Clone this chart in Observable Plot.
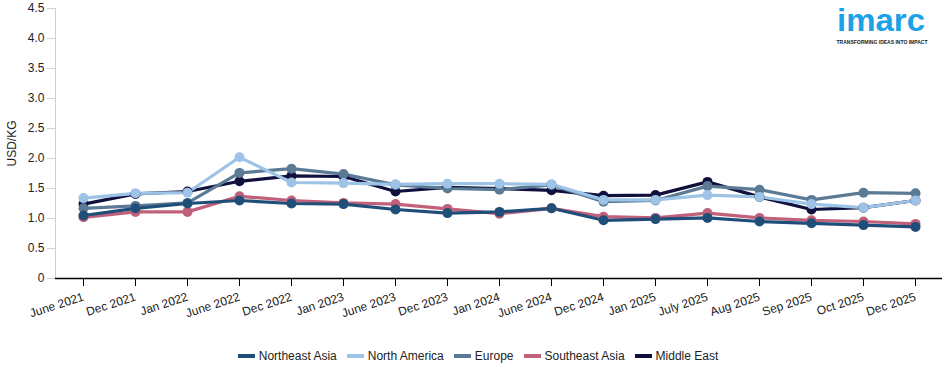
<!DOCTYPE html>
<html>
<head>
<meta charset="utf-8">
<script src="https://cdn.jsdelivr.net/npm/d3@7"></script>
<script src="https://cdn.jsdelivr.net/npm/@observablehq/plot@0.6"></script>
<style>
  body { margin:0; background:#fff; font-family:"Liberation Sans", Arial, sans-serif; }
  #wrap { position:relative; width:950px; height:373px; }
  #legend { position:absolute; top:349px; left:0; width:950px; display:flex; justify-content:center; gap:10px; font-size:12px; color:#222; padding-left:6px; box-sizing:border-box; }
  #legend .item { display:flex; align-items:center; gap:4px; }
  #legend .sw { width:17px; height:4px; display:inline-block; }
  #logo { position:absolute; left:830px; top:0px; }
</style>
</head>
<body>
<div id="wrap">
  <div id="chart"></div>
  <div id="legend"></div>
  <svg id="logo" width="105" height="48">
    <text x="7" y="31" fill="#1ba1e6" font-family="Liberation Sans, Arial, sans-serif" font-weight="bold" font-size="32" textLength="88" lengthAdjust="spacingAndGlyphs">imarc</text>
    <text x="52" y="44" text-anchor="middle" fill="#222" font-family="Liberation Sans, Arial, sans-serif" font-weight="bold" font-size="5">TRANSFORMING IDEAS INTO IMPACT</text>
  </svg>
</div>
<script>
const categories = ["June 2021","Dec 2021","Jan 2022","June 2022","Dec 2022","Jan 2023","June 2023","Dec 2023","Jan 2024","June 2024","Dec 2024","Jan 2025","July 2025","Aug 2025","Sep 2025","Oct 2025","Dec 2025"];
const seriesNames = ["Northeast Asia","North America","Europe","Southeast Asia","Middle East"];
const seriesColors = ["#1f4e79","#9dc3e6","#5b7a95","#c0607a","#10103f"];
const northeastAsia = [1.05,1.17,1.25,1.30,1.25,1.24,1.15,1.09,1.11,1.17,0.97,0.99,1.01,0.95,0.92,0.89,0.86];
const northAmerica  = [1.34,1.42,1.43,2.02,1.60,1.59,1.57,1.58,1.58,1.57,1.31,1.31,1.39,1.36,1.24,1.18,1.30];
const europe        = [1.17,1.21,1.26,1.76,1.83,1.74,1.56,1.50,1.48,1.56,1.28,1.30,1.54,1.48,1.31,1.43,1.42];
const southeastAsia = [1.02,1.11,1.11,1.37,1.30,1.26,1.24,1.16,1.08,1.17,1.03,1.01,1.09,1.01,0.97,0.95,0.91];
const middleEast    = [1.24,1.41,1.45,1.62,1.71,1.70,1.45,1.52,1.50,1.47,1.38,1.39,1.61,1.36,1.15,1.18,1.30];
const yTicks = [0,0.5,1,1.5,2,2.5,3,3.5,4,4.5];

const seriesValues = [northeastAsia, northAmerica, europe, southeastAsia, middleEast];
const data = [];
// draw order: last legend entry first so Northeast Asia ends on top
for (let s = seriesNames.length - 1; s >= 0; s--) {
  categories.forEach((c, i) => data.push({series: seriesNames[s], date: c, value: seriesValues[s][i]}));
}

const chart = Plot.plot({
  width: 950,
  height: 340,
  marginLeft: 55,
  marginRight: 8,
  marginTop: 8,
  marginBottom: 62,
  style: {fontFamily: '"Liberation Sans", Arial, sans-serif', fontSize: "12px", color: "#222", background: "#fff"},
  x: {type: "point", domain: categories, padding: 0.5},
  y: {domain: [0, 4.5]},
  color: {domain: seriesNames, range: seriesColors},
  marks: [
    Plot.frame({anchor: "left", stroke: "#d0d0d0"}),
    Plot.axisY({ticks: yTicks, tickFormat: d => d === 0 ? "0" : d.toFixed(1), stroke: "#d0d0d0", fill: "#222", tickSize: 8, tickPadding: 3, label: null, fontSize: 12}),
    Plot.text(["USD/KG"], {frameAnchor: "left", textAnchor: "middle", dx: -43, dy: 0, rotate: -90, fontSize: 12, fill: "#222"}),
    Plot.axisX({tickRotate: -18, tickSize: 8, tickPadding: 10, stroke: "#000", fill: "#222", label: null, fontSize: 12}),
    Plot.ruleY([0], {stroke: "#000", strokeWidth: 1.5}),
    Plot.line(data, {x: "date", y: "value", z: "series", stroke: "series", strokeWidth: 3.2}),
    Plot.dot(data, {x: "date", y: "value", fill: "series", r: 5, stroke: "none"})
  ]
});
document.getElementById("chart").appendChild(chart);

const legend = document.getElementById("legend");
seriesNames.forEach((n, i) => {
  const item = document.createElement("div");
  item.className = "item";
  const sw = document.createElement("span");
  sw.className = "sw";
  sw.style.background = seriesColors[i];
  const t = document.createElement("span");
  t.textContent = n;
  item.appendChild(sw); item.appendChild(t);
  legend.appendChild(item);
});
</script>
</body>
</html>
